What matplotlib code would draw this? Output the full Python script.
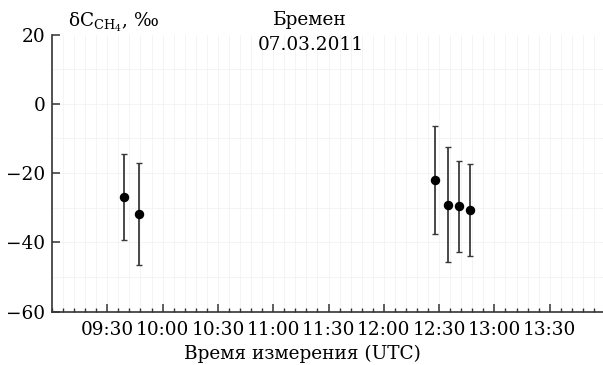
import numpy as np
import matplotlib
matplotlib.use('Agg')
import matplotlib.pyplot as plt
from matplotlib.ticker import FixedLocator, MultipleLocator, FuncFormatter

plt.rcParams['font.family'] = ['DejaVu Serif']
plt.rcParams['mathtext.fontset'] = 'dejavuserif'

# Measurement times (UTC) and delta values with errors
times = ['09:39', '09:47', '12:28', '12:35', '12:41', '12:47']
delta = [-27.0, -31.8, -22.0, -29.2, -29.6, -30.6]
err = [12.4, 14.6, 15.6, 16.6, 13.2, 13.3]

major_ticks = ['09:30', '10:00', '10:30', '11:00', '11:30',
               '12:00', '12:30', '13:00', '13:30']
y_ticks = [20, 0, -20, -40, -60]


def to_min(s):
    h, m = s.split(':')
    return int(h)*60 + int(m)


x = np.array([to_min(t) for t in times])

fig = plt.figure(figsize=(6.03, 3.65), dpi=100)
ax = fig.add_axes([52/603, 1 - 311.7/365, 553/603, 277.2/365])

ax.errorbar(x, delta, yerr=err, fmt='o', color='black', ms=5.8,
            ecolor='#3a3a3a', elinewidth=1.3, capsize=2.5, capthick=1.0,
            zorder=3)

ax.set_xlim(540, 840)
ax.set_ylim(-60, 20)

ax.xaxis.set_major_locator(FixedLocator([to_min(t) for t in major_ticks]))
ax.xaxis.set_major_formatter(FuncFormatter(
    lambda v, p: '%02d:%02d' % (int(v)//60, int(v) % 60)))
ax.xaxis.set_minor_locator(MultipleLocator(6))
ax.set_yticks(y_ticks)
ax.yaxis.set_major_formatter(FuncFormatter(
    lambda v, p: ('\u2212%d' % -v) if v < 0 else '%d' % v))

# faint grid
for gx in np.arange(546, 840, 6):
    ax.axvline(gx, color='#f2f2f2', lw=0.6, zorder=0)
for gy in np.arange(-50, 20, 10):
    ax.axhline(gy, color='#f2f2f2', lw=0.6, zorder=0)

for s in ['top', 'right']:
    ax.spines[s].set_visible(False)
for s in ['left', 'bottom']:
    ax.spines[s].set_linewidth(1.2)
    ax.spines[s].set_color('#333333')

ax.tick_params(axis='both', which='major', direction='in', length=6,
               width=1.1, color='#333333', labelsize=13.3, pad=5)
ax.tick_params(axis='x', which='minor', direction='in', length=3,
               width=1.0, color='#333333')
ax.tick_params(axis='x', which='major', pad=7)

fig.text(68/603, 1 - 22/365, r'δC$_{\mathrm{CH_4}}$, ‰', fontsize=13.3,
         ha='left', va='center')
fig.text(310/603, 1 - 20/365, 'Бремен', fontsize=13.3, ha='center',
         va='center')
fig.text(311/603, 1 - 45/365, '07.03.2011', fontsize=13.3, ha='center',
         va='center')
fig.text(302/603, 1 - 354/365, 'Время измерения (UTC)', fontsize=13.3,
         ha='center', va='center')

fig.savefig('out.png', dpi=100)
